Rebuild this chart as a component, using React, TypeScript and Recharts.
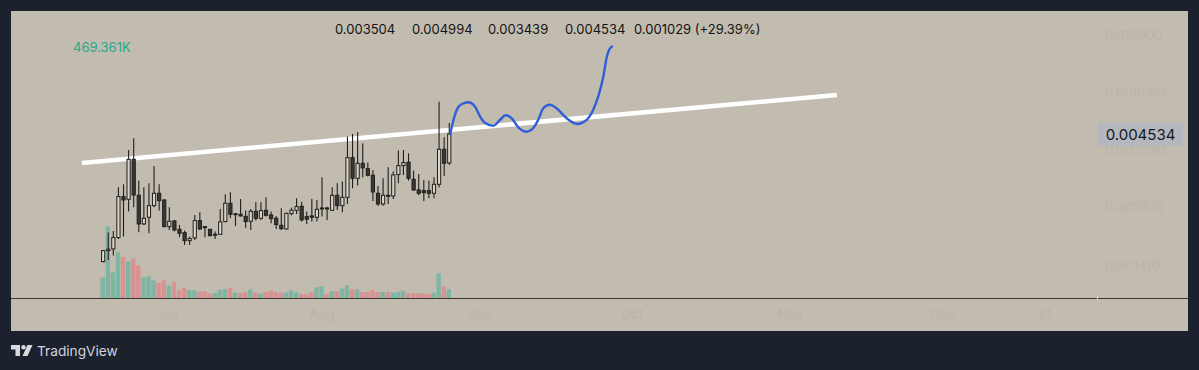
import React from 'react';
import { Bar, ComposedChart, Line, XAxis, YAxis } from 'recharts';

// daily candles
const opens = [
  0.001458, 0.001608, 0.001632, 0.001805, 0.002598, 0.002537, 0.00362, 0.002629, 0.002038, 0.002162,
  0.002398, 0.002676, 0.002522, 0.00199, 0.002093, 0.001943, 0.001887, 0.001757, 0.0018, 0.0021,
  0.00199, 0.001943, 0.001848, 0.001859, 0.002081, 0.002449, 0.00222, 0.00222, 0.002181, 0.002087,
  0.00228, 0.002143, 0.002301, 0.002207, 0.002143, 0.002014, 0.001949, 0.002233, 0.002301, 0.002384,
  0.002175, 0.002188, 0.002162, 0.002329, 0.002349, 0.002301, 0.002629, 0.002398, 0.002583, 0.003674,
  0.003058, 0.003494, 0.003332, 0.003141, 0.002676, 0.002434, 0.002629, 0.002613, 0.00316, 0.003422,
  0.003526, 0.003031, 0.002757, 0.002741, 0.002741, 0.002676, 0.002899, 0.003957, 0.003504,
];
const highs = [
  0.001618, 0.001887, 0.001915, 0.002823, 0.002899, 0.003934, 0.004364, 0.002995, 0.002823, 0.002925,
  0.003412, 0.002899, 0.002537, 0.002363, 0.002112, 0.00202, 0.001921, 0.001821, 0.002207, 0.00226,
  0.002002, 0.001943, 0.001904, 0.002329, 0.002652, 0.0027, 0.00224, 0.002545, 0.002294, 0.002329,
  0.002471, 0.002471, 0.002583, 0.002274, 0.002188, 0.002342, 0.002253, 0.002356, 0.00256, 0.002485,
  0.002274, 0.002545, 0.002522, 0.003086, 0.002377, 0.002823, 0.002925, 0.002969, 0.004429, 0.004535,
  0.004603, 0.004174, 0.003515, 0.003293, 0.002857, 0.003058, 0.003372, 0.003245, 0.003911, 0.003934,
  0.003819, 0.003274, 0.003178, 0.003013, 0.002995, 0.003086, 0.006045, 0.004403, 0.004994,
];
const lows = [
  0.00145, 0.00148, 0.001538, 0.001784, 0.001821, 0.002274, 0.002363, 0.001893, 0.00202, 0.001876,
  0.002363, 0.002294, 0.001978, 0.001932, 0.001904, 0.00181, 0.001691, 0.001691, 0.001768, 0.001932,
  0.00181, 0.001821, 0.001784, 0.001848, 0.002069, 0.002143, 0.002002, 0.002175, 0.001972, 0.001932,
  0.0021, 0.002112, 0.002175, 0.00205, 0.001949, 0.001932, 0.001938, 0.002201, 0.002227, 0.002081,
  0.002038, 0.002081, 0.002081, 0.002175, 0.002112, 0.002287, 0.002308, 0.00226, 0.002434, 0.002798,
  0.002865, 0.003086, 0.003104, 0.0025, 0.002391, 0.002398, 0.002434, 0.002545, 0.002925, 0.00315,
  0.002995, 0.002733, 0.002629, 0.0025, 0.00256, 0.00256, 0.002823, 0.003123, 0.003439,
];
const closes = [
  0.001608, 0.001628, 0.001805, 0.002598, 0.002522, 0.00362, 0.002636, 0.002038, 0.002143, 0.002398,
  0.002676, 0.002507, 0.00199, 0.002087, 0.001932, 0.001876, 0.001757, 0.001789, 0.0021, 0.001949,
  0.001978, 0.001837, 0.001859, 0.002075, 0.002449, 0.00222, 0.002233, 0.002188, 0.002081, 0.00228,
  0.002143, 0.002294, 0.002201, 0.002137, 0.002026, 0.001955, 0.00224, 0.002301, 0.002377, 0.002112,
  0.002125, 0.002162, 0.002322, 0.002349, 0.002336, 0.002629, 0.002398, 0.002583, 0.003674, 0.003058,
  0.003494, 0.003353, 0.003141, 0.002708, 0.002434, 0.002629, 0.002613, 0.00315, 0.003422, 0.003515,
  0.003058, 0.002757, 0.002676, 0.002692, 0.002676, 0.002899, 0.003957, 0.003494, 0.004534,
];
const volumes = [
  1116, 3870, 1386, 2466, 2214, 1980, 2124, 1764, 1116, 1170,
  954, 810, 954, 684, 864, 414, 540, 432, 414, 360,
  360, 234, 270, 450, 468, 540, 306, 270, 324, 450,
  306, 234, 306, 396, 306, 288, 306, 396, 306, 216,
  216, 324, 576, 630, 216, 360, 360, 504, 684, 486,
  468, 324, 324, 432, 306, 324, 324, 288, 324, 396,
  252, 252, 252, 252, 216, 288, 1332, 630, 469.361,
];

// hand drawn lines on top of the chart
const trendBars = [-4.13, 144.2];
const trendPrices = [0.003503, 0.006413];
const curveBars = [
  68.2, 68.7, 69.5, 70.5, 71.8, 73.1, 74.1, 75.0, 76.7, 78.0, 79.1, 80.3, 81.6, 83.2,
  84.5, 85.5, 86.5, 87.8, 89.1, 91.1, 93.1, 95.0, 96.3, 97.3, 98.3, 99.0, 99.5, 100.2,
];
const curvePrices = [
  0.004494, 0.004986, 0.005612, 0.00592, 0.00601, 0.00578, 0.005288, 0.005013, 0.004881, 0.005135,
  0.005354, 0.005213, 0.004812, 0.004628, 0.00477, 0.005135, 0.005698, 0.005883, 0.005698, 0.005213,
  0.004956, 0.005135, 0.005612, 0.006317, 0.007546, 0.009014, 0.009627, 0.009914,
];

const timeTicks = [13, 43, 74, 104, 135, 165, 185];
const timeLabels = ['Jul', 'Aug', 'Sep', 'Oct', 'Nov', 'Dec', '21'];
const priceTicks = [0.0109, 0.00658, 0.00393, 0.00237, 0.00141];

const headerValues = ['0.003504', '0.004994', '0.003439', '0.004534', '0.001029 (+29.39%)'];
const headerLefts = [335, 412, 488, 565, 634];

const candles = opens.map((open, i) => ({
  bar: i,
  open,
  high: highs[i],
  low: lows[i],
  close: closes[i],
  volume: volumes[i],
}));
const trendLine = trendBars.map((bar, i) => ({ bar, price: trendPrices[i] }));
const curveLine = curveBars.map((bar, i) => ({ bar, price: curvePrices[i] }));

const FONT = 'Inter, "Liberation Sans", sans-serif';
const FAINT = '#bab4a9';

const Candle = (props: any) => {
  const { x, y, width, height, payload } = props;
  const { open, high, low, close } = payload;
  const yOf = (p: number) => y + (height * Math.log(high / p)) / Math.log(high / low);
  const mid = x + width / 2;
  const up = close >= open;
  const top = yOf(Math.max(open, close));
  const bottom = yOf(Math.min(open, close));
  return (
    <g>
      <line x1={mid} x2={mid} y1={y} y2={y + height} stroke="#211f1c" strokeWidth={1.1} />
      <rect
        x={mid - 1.6}
        y={top}
        width={3.2}
        height={Math.max(bottom - top, 1)}
        fill={up ? '#d8d4cc' : '#3a3835'}
        stroke="#211f1c"
        strokeWidth={1}
      />
    </g>
  );
};

const VolumeBar = (props: any) => {
  const { x, y, width, height, payload } = props;
  const mid = x + width / 2;
  return (
    <rect
      x={mid - 2.2}
      y={y}
      width={4.4}
      height={height}
      fill={payload.close >= payload.open ? '#7fb5a3' : '#d99292'}
    />
  );
};

export default function App() {
  return (
    <div style={{ position: 'absolute', left: 0, top: 0, width: 1199, height: 370, background: '#1c222d', fontFamily: FONT, overflow: 'hidden' }}>
      <div style={{ position: 'absolute', left: 11, top: 11, width: 1177, height: 320, background: '#c2bbaf' }} />
      <div style={{ position: 'absolute', left: 11, top: 298, width: 1177, height: 1, background: '#3c372f' }} />
      <div style={{ position: 'absolute', left: 1097, top: 296, width: 1, height: 5, background: '#d8d4cc' }} />

      <div style={{ position: 'absolute', left: 0, top: 0 }}>
        <ComposedChart
          width={1199}
          height={370}
          data={candles}
          margin={{ top: 11, right: 11, bottom: 39, left: 11 }}
          barGap={0}
        >
          <XAxis
            dataKey="bar"
            type="number"
            domain={[-18.07, 195.3]}
            ticks={timeTicks}
            tickFormatter={(v: number) => timeLabels[timeTicks.indexOf(v)]}
            axisLine={false}
            tickLine={false}
            height={33}
            tick={{ fill: FAINT, fontSize: 13 }}
            tickMargin={6}
          />
          <YAxis
            yAxisId="price"
            orientation="right"
            scale="log"
            domain={[0.001055, 0.01353]}
            ticks={priceTicks}
            tickFormatter={(v: number) => v.toFixed(6)}
            axisLine={false}
            tickLine={false}
            width={91}
            tick={{ fill: FAINT, fontSize: 13 }}
          />
          <YAxis yAxisId="volume" hide domain={[0, 15498]} />
          <Line
            yAxisId="price"
            data={trendLine}
            dataKey="price"
            stroke="#ffffff"
            strokeWidth={4.5}
            dot={false}
            legendType="none"
            zIndex={100}
            isAnimationActive={false}
          />
          <Bar yAxisId="volume" dataKey="volume" barSize={4} shape={VolumeBar} isAnimationActive={false} />
          <Bar
            yAxisId="price"
            dataKey={(d: any) => [d.low, d.high]}
            barSize={4}
            shape={Candle}
            isAnimationActive={false}
          />
          <Line
            yAxisId="price"
            data={curveLine}
            dataKey="price"
            type="monotone"
            stroke="#2f5fd8"
            strokeWidth={2.4}
            dot={false}
            isAnimationActive={false}
          />
        </ComposedChart>
      </div>

      {headerValues.map((text, i) => (
        <div key={text} style={{ position: 'absolute', left: headerLefts[i], top: 21, fontSize: 13, lineHeight: '16px', color: '#131313', whiteSpace: 'nowrap' }}>
          {text}
        </div>
      ))}
      <div style={{ position: 'absolute', left: 73, top: 39, fontSize: 13, lineHeight: '16px', color: '#27a98a' }}>469.361K</div>

      <div style={{ position: 'absolute', left: 1098, top: 123, width: 85, height: 23, background: '#b5b7bf', color: '#131722', fontSize: 15, lineHeight: '23px', textAlign: 'center' }}>
        0.004534
      </div>

      <svg style={{ position: 'absolute', left: 11, top: 345 }} width={22} height={12} viewBox="0 0 22 12">
        <path d="M0 0H9V11H4.5V4.5H0Z M21.5 0L16.5 11H11.5L16.5 0Z" fill="#d8dade" />
        <circle cx={12.5} cy={2.2} r={2.2} fill="#d8dade" />
      </svg>
      <div style={{ position: 'absolute', left: 37, top: 342, fontSize: 13.7, lineHeight: '18px', color: '#d1d4dc' }}>TradingView</div>
    </div>
  );
}
